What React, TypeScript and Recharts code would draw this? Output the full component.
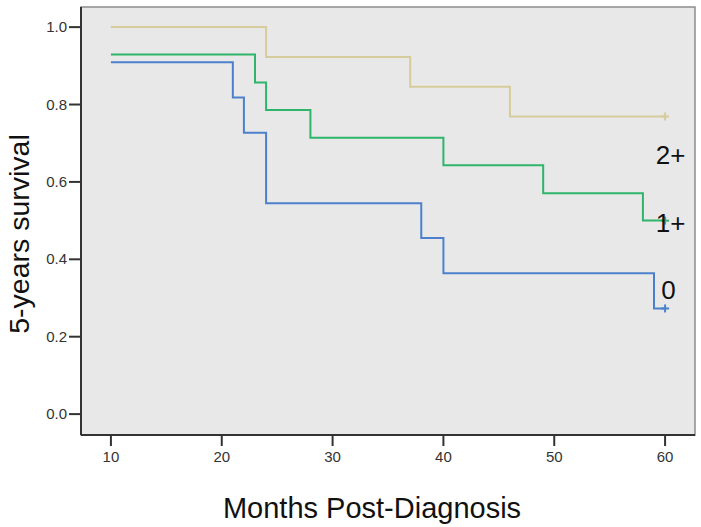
import React from 'react'
import {
  LineChart,
  Line,
  XAxis,
  YAxis,
  CartesianGrid,
  ReferenceArea,
  ReferenceDot,
  Label,
} from 'recharts'

// Kaplan-Meier steps per group (months, survival)
const monthsTicks = [10, 20, 30, 40, 50, 60]
const survivalTicks = [0, 0.2, 0.4, 0.6, 0.8, 1.0]

const group2Months = [10, 24, 37, 46, 60]
const group2Surv = [1.0, 0.923, 0.846, 0.769, 0.769]

const group1Months = [10, 23, 24, 28, 40, 49, 58, 60]
const group1Surv = [0.929, 0.857, 0.786, 0.714, 0.643, 0.571, 0.5, 0.5]

const group0Months = [10, 21, 22, 24, 38, 40, 59, 60]
const group0Surv = [0.909, 0.818, 0.727, 0.545, 0.455, 0.364, 0.273, 0.273]

const groupNames = ['2+', '1+', '0']
const labelMonths = [60.5, 60.5, 60.3]
const labelSurv = [0.67, 0.495, 0.32]

const toRows = (xs: number[], ys: number[]) => xs.map((x, i) => ({ x, y: ys[i] }))

const series = [
  { name: groupNames[0], data: toRows(group2Months, group2Surv), color: '#d6cc9b' },
  { name: groupNames[1], data: toRows(group1Months, group1Surv), color: '#2fb56b' },
  { name: groupNames[2], data: toRows(group0Months, group0Surv), color: '#4c80cc' },
]

// censor mark "+" on the last point only
const censorDot = (color: string, lastIndex: number) => (props: any) => {
  const { cx, cy, index } = props
  if (index !== lastIndex || cx == null) return <g key={`d-${index}`} />
  return (
    <g key={`d-${index}`}>
      <line x1={cx - 4} x2={cx + 4} y1={cy} y2={cy} stroke={color} strokeWidth={2} />
      <line x1={cx} x2={cx} y1={cy - 4} y2={cy + 4} stroke={color} strokeWidth={2} />
    </g>
  )
}

const font = 'Liberation Sans, Arial, sans-serif'

const XTick = ({ x, y, payload }: any) => (
  <text x={x} y={y + 12} textAnchor="middle" fill="#333" fontSize={15} fontFamily={font}>
    {payload.value}
  </text>
)

const YTick = ({ x, y, payload }: any) => (
  <text x={x} y={y + 5} textAnchor="end" fill="#333" fontSize={15} fontFamily={font}>
    {Number(payload.value).toFixed(1)}
  </text>
)

export default function App() {
  return (
    <div style={{ position: 'absolute', left: 0, top: 0, background: '#fff' }}>
      <LineChart
        width={701}
        height={527}
        margin={{ top: 7, right: 6, bottom: 0, left: 0 }}
        style={{ fontFamily: font }}
      >
        <CartesianGrid horizontal={false} vertical={false} fill="#e8e8e8" />
        <ReferenceArea
          x1={7.3}
          x2={62.7}
          y1={-0.054}
          y2={1.052}
          fill="none"
          stroke="#8c8c8c"
          strokeWidth={1.5}
          ifOverflow="visible"
        />
        <XAxis
          type="number"
          dataKey="x"
          domain={[7.3, 62.7]}
          ticks={monthsTicks}
          allowDataOverflow
          height={92}
          tickSize={11}
          tickMargin={4}
          axisLine={{ stroke: '#333', strokeWidth: 2 }}
          tickLine={{ stroke: '#333', strokeWidth: 2 }}
          tick={<XTick />}
        >
          <Label
            value="Months Post-Diagnosis"
            position="insideBottom"
            offset={9}
            dx={-16}
            style={{ fill: '#111', fontSize: 29, fontFamily: font }}
          />
        </XAxis>
        <YAxis
          type="number"
          dataKey="y"
          domain={[-0.054, 1.052]}
          ticks={survivalTicks}
          allowDataOverflow
          width={81}
          tickSize={12}
          tickMargin={2}
          axisLine={{ stroke: '#333', strokeWidth: 2 }}
          tickLine={{ stroke: '#333', strokeWidth: 2 }}
          tick={<YTick />}
        >
          <Label
            value="5-years survival"
            angle={-90}
            position="insideLeft"
            offset={19}
            dy={13}
            style={{ fill: '#111', fontSize: 28.5, textAnchor: 'middle', fontFamily: font }}
          />
        </YAxis>
        {series.map((s) => (
          <Line
            key={s.name}
            data={s.data}
            dataKey="y"
            type="stepAfter"
            stroke={s.color}
            strokeWidth={2}
            dot={censorDot(s.color, s.data.length - 1)}
            activeDot={false}
            isAnimationActive={false}
          />
        ))}
        {groupNames.map((name, i) => (
          <ReferenceDot
            key={name}
            x={labelMonths[i]}
            y={labelSurv[i]}
            r={0}
            fill="none"
            stroke="none"
            label={{ value: name, position: 'center', fill: '#111', fontSize: 26, fontFamily: font }}
          />
        ))}
      </LineChart>
    </div>
  )
}
